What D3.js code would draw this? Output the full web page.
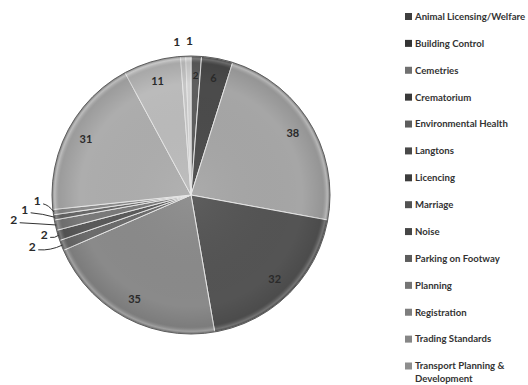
<!DOCTYPE html>
<html>
<head>
<meta charset="utf-8">
<script src="https://cdn.jsdelivr.net/npm/d3@7"></script>
<style>
  html, body { margin: 0; padding: 0; background: #fff; }
  svg { display: block; }
</style>
</head>
<body>
<svg id="chart" width="528" height="385"></svg>
<script>
// Enquiries by service area
const categories = [
  "Animal Licensing/Welfare", "Building Control", "Cemetries", "Crematorium",
  "Environmental Health", "Langtons", "Licencing", "Marriage", "Noise",
  "Parking on Footway", "Planning", "Registration", "Trading Standards",
  "Transport Planning & Development"
];
const values = [2, 6, 38, 32, 35, 2, 2, 2, 1, 1, 31, 11, 1, 1];
const shades = [
  "#5e5e5e", "#4b4b4b", "#a6a6a6", "#545454", "#8a8a8a", "#6c6c6c", "#5a5a5a",
  "#7a7a7a", "#686868", "#8a8a8a", "#adadad", "#bbbbbb", "#c6c6c6", "#d2d2d2"
];

const svg = d3.select("#chart");
const cx = 191, cy = 195, R = 139;

const defs = svg.append("defs");
// soft bevel: darker towards the rim, thin light edge
const rim = defs.append("radialGradient").attr("id", "rim")
  .attr("cx", "50%").attr("cy", "50%").attr("r", "50%");
rim.append("stop").attr("offset", "0%").attr("stop-color", "#fff").attr("stop-opacity", 0.06);
rim.append("stop").attr("offset", "80%").attr("stop-color", "#000").attr("stop-opacity", 0.0);
rim.append("stop").attr("offset", "95%").attr("stop-color", "#000").attr("stop-opacity", 0.10);
rim.append("stop").attr("offset", "98%").attr("stop-color", "#fff").attr("stop-opacity", 0.18);
rim.append("stop").attr("offset", "100%").attr("stop-color", "#000").attr("stop-opacity", 0.35);

const color = d3.scaleOrdinal().domain(categories).range(shades);
const pie = d3.pie().sort(null).value(d => d.value);
const data = categories.map((c, i) => ({ name: c, value: values[i] }));
const arcs = pie(data);
const arc = d3.arc().innerRadius(0).outerRadius(R);
const labelArc = d3.arc().innerRadius(R * 0.855).outerRadius(R * 0.855);

const g = svg.append("g").attr("transform", `translate(${cx},${cy})`);

g.selectAll("path.slice").data(arcs).join("path")
  .attr("class", "slice")
  .attr("d", arc)
  .attr("fill", d => color(d.data.name))
  .attr("stroke", "#e6e6e6")
  .attr("stroke-width", 1)
  .attr("stroke-linejoin", "round");

g.append("circle").attr("r", R).attr("fill", "url(#rim)")
  .attr("stroke", "#444").attr("stroke-width", 0.8);

// values of 3 or more sit inside their slice
const inside = arcs.filter(d => d.data.value >= 3);
g.selectAll("text.in").data(inside).join("text")
  .attr("class", "in")
  .attr("transform", d => `translate(${labelArc.centroid(d)})`)
  .attr("text-anchor", "middle")
  .attr("dy", "0.35em")
  .attr("font-family", "Lato, 'Open Sans', sans-serif")
  .attr("font-weight", "bold")
  .attr("font-size", 11)
  .attr("fill", "#2a2a2a")
  .text(d => d.data.value);

// the Animal Licensing slice is narrow, its value sits near the top
const tiny = arcs.filter(d => d.data.value === 2 && d.index === 0);
g.selectAll("text.tiny").data(tiny).join("text")
  .attr("transform", d => {
    const a = (d.startAngle + d.endAngle) / 2;
    const r = R * 0.86;
    return `translate(${Math.sin(a) * r},${-Math.cos(a) * r})`;
  })
  .attr("text-anchor", "middle").attr("dy", "0.35em")
  .attr("font-family", "Lato, 'Open Sans', sans-serif")
  .attr("font-weight", "bold").attr("font-size", 10)
  .attr("fill", "#2a2a2a")
  .text(d => d.data.value);

// outside labels for the small slices: [angle shift in degrees, radius]
const outsideLayout = {
  5: [3.2, 167], 6: [1.9, 152], 7: [4.6, 179], 8: [4.2, 167], 9: [4.9, 154],
  12: [-2.0, 154], 13: [0.5, 154]
};
const outside = arcs.filter(d => outsideLayout[d.index]);
const deg = Math.PI / 180;
const outPos = d => {
  const [shift, r] = outsideLayout[d.index];
  const a = (d.startAngle + d.endAngle) / 2 + shift * deg;
  return [Math.sin(a) * r, -Math.cos(a) * r];
};

g.selectAll("path.leader").data(outside.filter(d => d.index < 12)).join("path")
  .attr("class", "leader")
  .attr("d", d => {
    const a = (d.startAngle + d.endAngle) / 2;
    const p0 = [Math.sin(a) * (R - 1), -Math.cos(a) * (R - 1)];
    const [lx, ly] = outPos(d);
    const p1 = [lx + 6, ly + 3];
    return `M${p1[0]},${p1[1]} Q${(p0[0] + p1[0]) / 2},${p1[1] + 1} ${p0[0]},${p0[1]}`;
  })
  .attr("fill", "none")
  .attr("stroke", "#333")
  .attr("stroke-width", 1);

g.selectAll("text.out").data(outside).join("text")
  .attr("class", "out")
  .attr("transform", d => `translate(${outPos(d)})`)
  .attr("text-anchor", "middle").attr("dy", "0.35em")
  .attr("font-family", "Lato, 'Open Sans', sans-serif")
  .attr("font-weight", "bold").attr("font-size", 12)
  .attr("fill", "#2a2a2a")
  .text(d => d.data.value);

// legend
const legendY = d3.scalePoint().domain(categories).range([16.5, 366]);
const leg = svg.append("g").selectAll("g").data(categories).join("g")
  .attr("transform", d => `translate(405,${legendY(d)})`);
leg.append("rect")
  .attr("x", 0).attr("y", -3.5).attr("width", 7).attr("height", 7)
  .attr("fill", d => d3.color(color(d)).darker(1.1));
leg.append("text")
  .attr("x", 10).attr("dy", "0.35em")
  .attr("font-family", "Lato, 'Open Sans', sans-serif")
  .attr("font-size", 9.6)
  .attr("font-weight", "bold")
  .attr("fill", "#333")
  .each(function (d) {
    const t = d3.select(this);
    if (d === "Transport Planning & Development") {
      t.append("tspan").attr("x", 10).text("Transport Planning &");
      t.append("tspan").attr("x", 10).attr("dy", 13).text("Development");
    } else {
      t.text(d);
    }
  });
</script>
</body>
</html>
